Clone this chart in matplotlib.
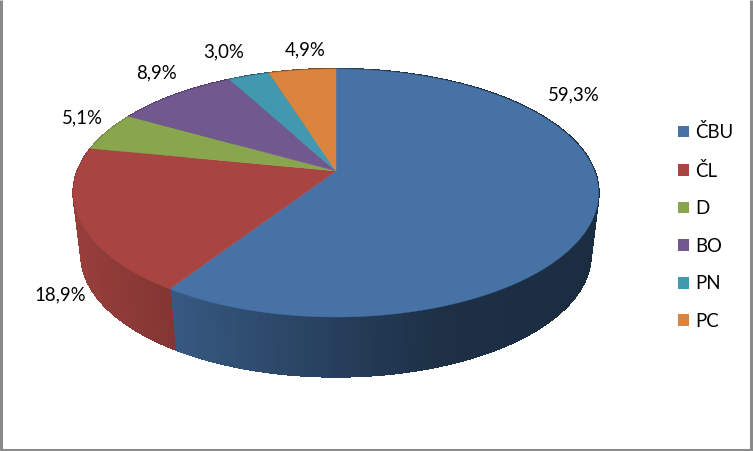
import numpy as np
import matplotlib
matplotlib.use("Agg")
import matplotlib.pyplot as plt
from matplotlib.patches import Polygon, Patch
from matplotlib.colors import to_rgb

categories = ["ČBU", "ČL", "D", "BO", "PN", "PC"]
values = [59.3, 18.9, 5.1, 8.9, 3.0, 4.9]
colors = ["#4672A6", "#A84542", "#89A54E", "#71588F", "#4198AF", "#DB843D"]
label_pos = [(574, 95), (60, 295), (82, 118), (157, 73), (224, 52), (305, 50)]

W, H = 753, 451
plt.rcParams['font.family'] = ['Lato', 'DejaVu Sans']
fig = plt.figure(figsize=(W / 100, H / 100), dpi=100, facecolor="white")
ax = fig.add_axes([0, 0, 1, 1])
ax.set_xlim(0, W)
ax.set_ylim(H, 0)
ax.axis("off")

# perspective projection of the pie disc
CX, APEX = 336.0, 171.0
C = 44 / 248
A = 69 * (1 + C) - APEX
X = 262.5 * np.sqrt(1 - C ** 2)
ELL_Y = 193.0


def top(t):
    sx, cy = np.sin(t), np.cos(t)
    d = 1 + C * cy
    return CX + X * sx / d, (A * cy + APEX) / d


def bottom(t):
    x, y = top(t)
    return CX + (x - CX) * 0.97, 255 + (y - ELL_Y) * 0.98


fractions = np.array(values) / sum(values)
edges = np.concatenate([[0], np.cumsum(fractions)]) * 2 * np.pi

# side walls, shaded from left to right
for i, col in enumerate(colors):
    base = np.array(to_rgb(col))
    ts = np.linspace(edges[i], edges[i + 1], max(int((edges[i + 1] - edges[i]) * 60), 2))
    for t0, t1 in zip(ts[:-1], ts[1:]):
        x0, y0 = top(t0)
        x1, y1 = top(t1)
        x2, y2 = bottom(t1)
        x3, y3 = bottom(t0)
        shade = np.interp((x0 + x1) / 2, [73, 170, 300, 440, 598], [0.9, 0.78, 0.6, 0.42, 0.39])
        c = tuple(base * shade)
        ax.add_patch(Polygon([(x0, y0), (x1, y1), (x2, y2), (x3, y3)],
                             closed=True, facecolor=c, edgecolor=c, linewidth=1.0,
                             antialiased=False, zorder=1))

# top faces
for i, col in enumerate(colors):
    ts = np.linspace(edges[i], edges[i + 1], 200)
    xs, ys = top(ts)
    pts = [(CX, APEX)] + list(zip(xs, ys))
    ax.add_patch(Polygon(pts, closed=True, facecolor=col, edgecolor=col, linewidth=0.3, zorder=2))

# value labels
for v, (lx, ly) in zip(values, label_pos):
    ax.text(lx, ly, f"{v:.1f}%".replace(".", ","), ha="center", va="center",
            fontsize=13.4, color="black", zorder=5)

# legend
handles = [Patch(facecolor=c, edgecolor="none", label=n) for c, n in zip(colors, categories)]
leg = ax.legend(handles=handles, loc="upper left", bbox_to_anchor=(678 / W, 1 - 123 / H),
                frameon=False, fontsize=13.4, handlelength=0.6, handleheight=0.6,
                handletextpad=0.33, labelspacing=1.105, borderpad=0, borderaxespad=0)

# picture frame
for xs, ys in [([1, 1], [0, H]), ([W - 1.5, W - 1.5], [0, H]), ([0, W], [H - 1.5, H - 1.5])]:
    ax.plot(xs, ys, color="#8a8a8a", lw=2.2, zorder=6, solid_capstyle="butt")

fig.savefig("out.png", dpi=100)
